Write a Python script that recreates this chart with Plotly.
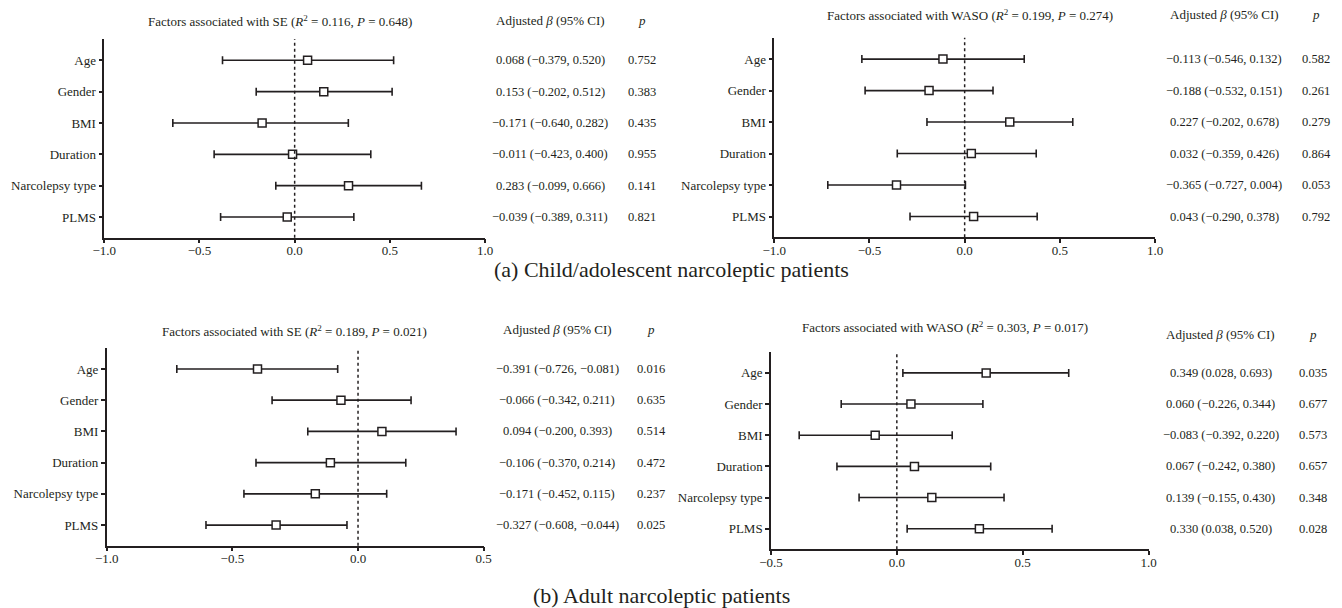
import plotly.graph_objects as go

W, H = 1342, 608
FONT = "Liberation Serif"
INK = "#231f20"
OFF = 8  # page body margin of the browser

factors = ["Age", "Gender", "BMI", "Duration", "Narcolepsy type", "PLMS"]

# (a) Child/adolescent - SE
a_se_beta = [0.068, 0.153, -0.171, -0.011, 0.283, -0.039]
a_se_low = [-0.379, -0.202, -0.640, -0.423, -0.099, -0.389]
a_se_up = [0.520, 0.512, 0.282, 0.400, 0.666, 0.311]
a_se_ci_text = ["0.068 (−0.379, 0.520)", "0.153 (−0.202, 0.512)", "−0.171 (−0.640, 0.282)",
                "−0.011 (−0.423, 0.400)", "0.283 (−0.099, 0.666)", "−0.039 (−0.389, 0.311)"]
a_se_p_text = ["0.752", "0.383", "0.435", "0.955", "0.141", "0.821"]

# (a) Child/adolescent - WASO (as drawn)
a_wa_beta = [-0.114, -0.187, 0.237, 0.035, -0.358, 0.047]
a_wa_low = [-0.540, -0.523, -0.198, -0.354, -0.719, -0.287]
a_wa_up = [0.313, 0.149, 0.568, 0.376, 0.004, 0.381]
a_wa_ci_text = ["−0.113 (−0.546, 0.132)", "−0.188 (−0.532, 0.151)", "0.227 (−0.202, 0.678)",
                "0.032 (−0.359, 0.426)", "−0.365 (−0.727, 0.004)", "0.043 (−0.290, 0.378)"]
a_wa_p_text = ["0.582", "0.261", "0.279", "0.864", "0.053", "0.792"]

# (b) Adult - SE (as drawn)
b_se_beta = [-0.400, -0.068, 0.095, -0.110, -0.170, -0.326]
b_se_low = [-0.721, -0.342, -0.200, -0.406, -0.454, -0.605]
b_se_up = [-0.081, 0.211, 0.390, 0.190, 0.114, -0.044]
b_se_ci_text = ["−0.391 (−0.726, −0.081)", "−0.066 (−0.342, 0.211)", "0.094 (−0.200, 0.393)",
                "−0.106 (−0.370, 0.214)", "−0.171 (−0.452, 0.115)", "−0.327 (−0.608, −0.044)"]
b_se_p_text = ["0.016", "0.635", "0.514", "0.472", "0.237", "0.025"]

# (b) Adult - WASO (as drawn)
b_wa_beta = [0.355, 0.056, -0.086, 0.070, 0.139, 0.328]
b_wa_low = [0.024, -0.221, -0.388, -0.238, -0.150, 0.041]
b_wa_up = [0.683, 0.342, 0.220, 0.373, 0.426, 0.617]
b_wa_ci_text = ["0.349 (0.028, 0.693)", "0.060 (−0.226, 0.344)", "−0.083 (−0.392, 0.220)",
                "0.067 (−0.242, 0.380)", "0.139 (−0.155, 0.430)", "0.330 (0.038, 0.520)"]
b_wa_p_text = ["0.035", "0.677", "0.573", "0.657", "0.348", "0.028"]

titles = [
    "Factors associated with SE (<i>R</i><sup>2</sup> = 0.116, <i>P</i> = 0.648)",
    "Factors associated with WASO (<i>R</i><sup>2</sup> = 0.199, <i>P</i> = 0.274)",
    "Factors associated with SE (<i>R</i><sup>2</sup> = 0.189, <i>P</i> = 0.021)",
    "Factors associated with WASO (<i>R</i><sup>2</sup> = 0.303, <i>P</i> = 0.017)",
]
captions = ["(a) Child/adolescent narcoleptic patients", "(b) Adult narcoleptic patients"]


def px(x):
    return (x - OFF) / W


def py(y):
    return 1 - (y - OFF) / H


# panel layout (pixel geometry on screen)
panels = [
    dict(beta=a_se_beta, low=a_se_low, up=a_se_up, ci=a_se_ci_text, p=a_se_p_text,
         xd=(104.3, 485.0), yd=(39.0, 237.7), xr=(-1.0, 1.0), title=titles[0],
         title_pos=(280, 20.5), ci_x=550, p_x=642, head_y=20.5),
    dict(beta=a_wa_beta, low=a_wa_low, up=a_wa_up, ci=a_wa_ci_text, p=a_wa_p_text,
         xd=(774.3, 1155.0), yd=(37.7, 237.3), xr=(-1.0, 1.0), title=titles[1],
         title_pos=(970, 15), ci_x=1224, p_x=1316, head_y=15),
    dict(beta=b_se_beta, low=b_se_low, up=b_se_up, ci=b_se_ci_text, p=b_se_p_text,
         xd=(106.7, 483.7), yd=(347.7, 545.7), xr=(-1.0, 0.5), title=titles[2],
         title_pos=(294, 330.5), ci_x=557, p_x=651, head_y=329.5),
    dict(beta=b_wa_beta, low=b_wa_low, up=b_wa_up, ci=b_wa_ci_text, p=b_wa_p_text,
         xd=(771.0, 1148.5), yd=(351.7, 549.3), xr=(-0.5, 1.0), title=titles[3],
         title_pos=(944.5, 327.5), ci_x=1220.5, p_x=1313, head_y=334.5),
]

fig = go.Figure()
annotations = []
shapes = []
layout_axes = {}
rows = list(range(len(factors)))

for i, pnl in enumerate(panels):
    n = "" if i == 0 else str(i + 1)
    xa, ya = "x" + n, "y" + n
    err_plus = [u - b for u, b in zip(pnl["up"], pnl["beta"])]
    err_minus = [b - l for b, l in zip(pnl["beta"], pnl["low"])]
    fig.add_trace(go.Scatter(
        x=pnl["beta"], y=rows, mode="markers", xaxis=xa, yaxis=ya, showlegend=False,
        marker=dict(symbol="square", size=8, color="white", line=dict(color=INK, width=1.5)),
        error_x=dict(type="data", symmetric=False, array=err_plus, arrayminus=err_minus,
                     color=INK, thickness=1.6, width=4),
        cliponaxis=False,
    ))
    layout_axes["xaxis" + n] = dict(
        domain=[px(pnl["xd"][0]), px(pnl["xd"][1])], range=list(pnl["xr"]), anchor=ya,
        showline=True, linecolor=INK, linewidth=1.5, ticks="outside", ticklen=4, tickwidth=1.5,
        tickcolor=INK, dtick=0.5, tick0=0, tickformat=".1f", showgrid=False, zeroline=False,
        automargin=False, ticklabelstandoff=-4,
        tickfont=dict(family=FONT, size=13, color=INK), fixedrange=True,
    )
    layout_axes["yaxis" + n] = dict(
        domain=[py(pnl["yd"][1]), py(pnl["yd"][0])], range=[5.66, -0.68], anchor=xa,
        tickvals=rows, ticktext=factors, automargin=False,
        showline=True, linecolor=INK, linewidth=1.5, ticks="outside", ticklen=4, tickwidth=1.5,
        tickcolor=INK, showgrid=False, zeroline=False,
        tickfont=dict(family=FONT, size=13, color=INK), fixedrange=True,
    )
    shapes.append(dict(type="line", xref=xa, yref=ya + " domain", x0=0, x1=0, y0=0, y1=1,
                       line=dict(color=INK, width=1.5, dash="dot")))
    annotations.append(dict(text=pnl["title"], xref="paper", yref="paper",
                            x=px(pnl["title_pos"][0]), y=py(pnl["title_pos"][1]),
                            xanchor="center", yanchor="middle", showarrow=False,
                            font=dict(family=FONT, size=13, color=INK)))
    annotations.append(dict(text="Adjusted <i>β</i> (95% CI)", xref="paper", yref="paper",
                            x=px(pnl["ci_x"]), y=py(pnl["head_y"]), xanchor="center",
                            yanchor="middle", showarrow=False,
                            font=dict(family=FONT, size=13, color=INK)))
    annotations.append(dict(text="<i>p</i>", xref="paper", yref="paper",
                            x=px(pnl["p_x"]), y=py(pnl["head_y"]), xanchor="center",
                            yanchor="middle", showarrow=False,
                            font=dict(family=FONT, size=13, color=INK)))
    for r, (ct, pt) in enumerate(zip(pnl["ci"], pnl["p"])):
        annotations.append(dict(text=ct, xref="paper", yref=ya, x=px(pnl["ci_x"]), y=r,
                                xanchor="center", yanchor="middle", showarrow=False,
                                font=dict(family=FONT, size=12.5, color=INK)))
        annotations.append(dict(text=pt, xref="paper", yref=ya, x=px(pnl["p_x"]), y=r,
                                xanchor="center", yanchor="middle", showarrow=False,
                                font=dict(family=FONT, size=12.5, color=INK)))

annotations.append(dict(text=captions[0], xref="paper", yref="paper", x=px(671), y=py(269),
                        xanchor="center", yanchor="middle", showarrow=False,
                        font=dict(family=FONT, size=22, color=INK)))
annotations.append(dict(text=captions[1], xref="paper", yref="paper", x=px(661), y=py(595),
                        xanchor="center", yanchor="middle", showarrow=False,
                        font=dict(family=FONT, size=22, color=INK)))

fig.update_layout(
    width=W, height=H, margin=dict(l=0, r=0, t=0, b=0, autoexpand=False),
    paper_bgcolor="white", plot_bgcolor="white",
    annotations=annotations, shapes=shapes, showlegend=False,
    **layout_axes,
)

fig.write_html("out.html", config={"displayModeBar": False})
